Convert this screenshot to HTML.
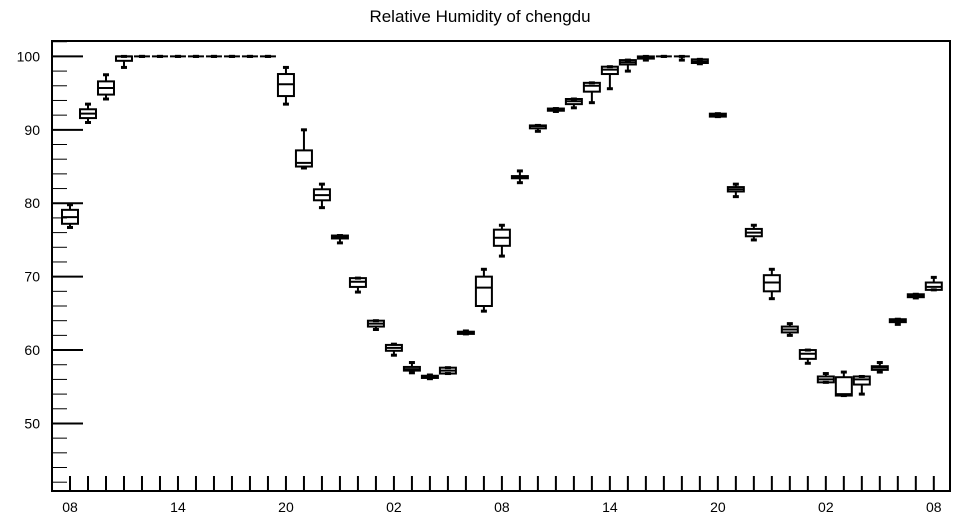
<!DOCTYPE html>
<html><head><meta charset="utf-8"><style>
body{margin:0;background:#fff;}
svg{display:block;font-family:"Liberation Sans",sans-serif;}
</style></head><body>
<svg id="chart" width="957" height="520">
<text x="480" y="22" text-anchor="middle" font-size="17">Relative Humidity of chengdu</text>
<rect x="52" y="41" width="898" height="450" fill="none" stroke="#000" stroke-width="2"/>
<g id="axes"></g>
<g id="boxes"></g>
</svg>
<script>
const hourLabels = ["08","14","20","02","08","14","20","02","08"];
const yTicks = [50,60,70,80,90,100];
const mins = [76.7,91,94.2,98.5,100,100,100,100,100,100,100,100,93.5,84.8,79.4,74.6,67.9,62.8,59.3,56.9,56.1,56.8,62.2,65.3,72.8,82.8,89.8,92.5,93,93.7,95.6,98,99.5,100,99.5,99,91.8,80.9,75,67,62,58.2,55.6,53.8,54,57,63.5,67.1,68.2];
const q1s = [77.2,91.6,94.8,99.4,100,100,100,100,100,100,100,100,94.6,85,80.4,75.2,68.6,63.2,59.9,57.2,56.2,56.8,62.2,66,74.2,83.4,90.2,92.6,93.5,95.2,97.6,98.9,99.7,100,100,99.1,91.8,81.6,75.5,68,62.4,58.8,55.6,53.8,55.3,57.3,63.8,67.2,68.2];
const medians = [78.1,92.2,95.7,100,100,100,100,100,100,100,100,100,96.2,85.5,81.1,75.4,69.3,63.6,60.3,57.4,56.3,57.2,62.4,68.5,75.3,83.6,90.5,92.7,93.9,96,98.2,99.2,99.9,100,100,99.3,92,81.9,76,69.2,62.8,59.5,56,54,56,57.6,64,67.4,68.6];
const q3s = [79.1,92.8,96.6,100,100,100,100,100,100,100,100,100,97.6,87.2,81.9,75.6,69.8,64,60.7,57.7,56.5,57.6,62.5,70,76.4,83.7,90.6,92.9,94.2,96.4,98.6,99.5,100,100,100,99.6,92.2,82.2,76.5,70.2,63.2,60,56.4,56.3,56.4,57.8,64.2,67.6,69.2];
const maxs = [79.8,93.5,97.5,100,100,100,100,100,100,100,100,100,98.5,90,82.6,75.6,69.8,64,60.8,58.3,56.6,57.6,62.6,71,77,84.4,90.6,92.9,94.2,96.4,98.6,99.5,100,100,100,99.6,92.2,82.6,77,71,63.6,60,56.8,57,56.4,58.3,64.2,67.6,69.9];

const NS="http://www.w3.org/2000/svg";
const X0=52,X1=950,Y0=491,Y1=41;
const xMin=-1,xMax=48.9,yMin=40.8,yMax=102.1;
const xs=h=>X0+(h-xMin)/(xMax-xMin)*(X1-X0);
const ys=v=>Y0-(v-yMin)/(yMax-yMin)*(Y0-Y1);
function mk(tag,attrs,parent){const e=document.createElementNS(NS,tag);for(const k in attrs)e.setAttribute(k,attrs[k]);parent.appendChild(e);return e;}
const axes=document.getElementById('axes');
// y ticks
for(let v=42;v<=102;v+=2){
  const major=v%10===0;
  const t=mk('line',{x1:X0,x2:X0+(major?31:15),y1:ys(v),y2:ys(v),stroke:'#000','stroke-width':major?2:1},axes);
  
  
}
yTicks.forEach(v=>{
  const t=mk('text',{x:40,y:ys(v)+5,'text-anchor':'end','font-size':14},axes);
  t.textContent=v;
  
  
});
// x ticks
for(let h=0;h<mins.length;h++){
  const t=mk('line',{x1:xs(h),x2:xs(h),y1:Y0,y2:Y0-15,stroke:'#000','stroke-width':2},axes);
  
  
}
hourLabels.forEach((lab,i)=>{
  const t=mk('text',{x:xs(i*6),y:512,'text-anchor':'middle','font-size':14},axes);
  t.textContent=lab;
  
  
});
// boxes
const bg=document.getElementById('boxes');
const W=8,C=3;
for(let i=0;i<mins.length;i++){
  const g=mk('g',{stroke:'#000','stroke-width':2,fill:'none'},bg);
  
  
  const x=xs(i);
  mk('line',{x1:x,x2:x,y1:ys(maxs[i]),y2:ys(q3s[i])},g);
  mk('line',{x1:x,x2:x,y1:ys(q1s[i]),y2:ys(mins[i])},g);
  mk('line',{x1:x-C,x2:x+C,y1:ys(maxs[i]),y2:ys(maxs[i]),'stroke-width':3},g);
  mk('line',{x1:x-C,x2:x+C,y1:ys(mins[i]),y2:ys(mins[i]),'stroke-width':3},g);
  mk('rect',{x:x-W,y:ys(q3s[i]),width:2*W,height:Math.max(0,ys(q1s[i])-ys(q3s[i]))},g);
  mk('line',{x1:x-W,x2:x+W,y1:ys(medians[i]),y2:ys(medians[i])},g);
}
</script>
</body></html>
